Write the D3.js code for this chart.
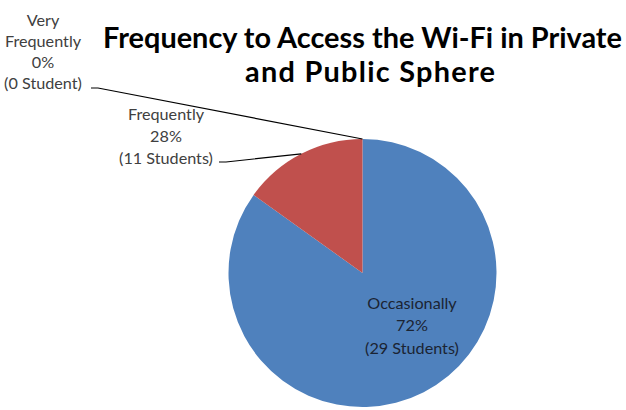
<!DOCTYPE html>
<html><head><meta charset="utf-8">
<script src="https://cdn.jsdelivr.net/npm/d3@7"></script>
<style>body{margin:0;background:#fff;}svg{display:block;}</style>
</head><body>
<svg id="c" width="626" height="410"></svg>
<script>
// ---- data ----
const categories = ["Occasionally", "Frequently", "Very Frequently"];
const students = [29, 11, 0];
const percentLabels = ["72%", "28%", "0%"];
const studentLabels = ["(29 Students)", "(11 Students)", "(0 Student)"];
// slice shares as drawn in the picture (angles)
const sliceShares = [84.9, 15.1, 0];
const titleLines = ["Frequency to Access the Wi-Fi in Private", "and Public Sphere"];
const colors = ["#4F81BD", "#C0504D", "#9BBB59"];

const svg = d3.select("#c");
const cx = 362.5, cy = 273, R = 134;

const pie = d3.pie().sort(null).value(d => d.share);
const data = categories.map((c, i) => ({cat: c, share: sliceShares[i], n: students[i], pct: percentLabels[i], st: studentLabels[i], color: colors[i]}));
const arcs = pie(data);
const arc = d3.arc().innerRadius(0).outerRadius(R);
const edge = d3.arc().innerRadius(R).outerRadius(R);

const g = svg.append("g").attr("transform", `translate(${cx},${cy})`);
g.selectAll("path.slice").data(arcs).enter().append("path")
  .attr("class", "slice").attr("d", arc).attr("fill", d => d.data.color);

// title
const font = "Lato, 'Open Sans', 'DejaVu Sans', sans-serif";
const t1 = svg.append("text").attr("x", 362.5).attr("y", 48).attr("text-anchor", "middle")
  .attr("font-family", font).attr("font-weight", "bold").attr("font-size", 27).attr("fill", "#000")
  .text(titleLines[0]);
const w1 = t1.node().getComputedTextLength();
const fs = 27 * 519 / w1;
t1.attr("font-size", fs);
svg.append("text").attr("x", 370).attr("y", 82).attr("text-anchor", "middle")
  .attr("font-family", font).attr("font-weight", "bold").attr("font-size", fs).attr("fill", "#000")
  .attr("textLength", 250).attr("lengthAdjust", "spacing")
  .text(titleLines[1]);

// labels
const labelPos = [
  {x: 412, y: 303, lines: [categories[0], percentLabels[0], studentLabels[0]], fill: "#1b2433", spacing: 22.5, size: 16.2, leader: null},
  {x: 166, y: 114, lines: [categories[1], percentLabels[1], studentLabels[1]], fill: "#404040", spacing: 22, size: 16.2, leader: {x: 219, y: 162}},
  {x: 43, y: 20, lines: ["Very", "Frequently", percentLabels[2], studentLabels[2]], fill: "#404040", spacing: 21, size: 16.2, leader: {x: 91, y: 88}}
];
const line = d3.line();
arcs.forEach((a, i) => {
  const L = labelPos[i];
  const txt = svg.append("text").attr("text-anchor", "middle").attr("font-family", font)
    .attr("font-size", L.size).attr("fill", L.fill);
  L.lines.forEach((s, k) => {
    txt.append("tspan").attr("x", L.x).attr("y", L.y + k * L.spacing).attr("dy", "0.35em").text(s);
  });
  if (L.leader) {
    const p = edge.centroid(a);
    const end = [cx + p[0], cy + p[1]];
    svg.append("path").attr("d", line([[L.leader.x, L.leader.y], [L.leader.x + 7, L.leader.y], end]))
      .attr("fill", "none").attr("stroke", "#000").attr("stroke-width", 1.2);
  }
});
</script>
</body></html>
